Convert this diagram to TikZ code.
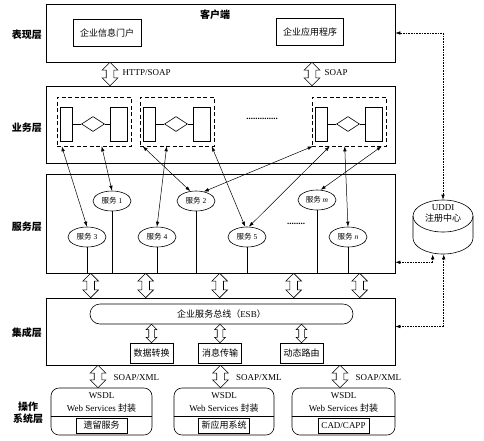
\documentclass[tikz,border=0pt]{standalone}
\usepackage{fontspec}
\setmainfont{Liberation Serif}
\newfontfamily\cjk{Noto Sans CJK SC}
\usepackage{tikz}
\usetikzlibrary{shapes.geometric, shapes.arrows, arrows.meta, calc}

\tikzset{
  layer/.style={draw, minimum width=349pt, inner sep=0pt},
  box/.style={draw, inner sep=2pt, minimum height=18pt, fill=white},
  grp/.style={draw, dash pattern=on 4pt off 2.5pt, minimum width=74pt, minimum height=49pt, inner sep=0pt},
  part/.style={draw, minimum height=34pt, inner sep=0pt},
  srv/.style={ellipse, draw, minimum width=38pt, minimum height=20pt, inner sep=0pt, fill=white, font=\fontsize{7.5}{8}\selectfont},
  fatarr/.style={double arrow, draw, rotate=90, inner sep=3.5pt, double arrow head extend=4pt, fill=white},
  fatsm/.style={inner sep=2.5pt, double arrow head extend=2.5pt},
  link/.style={<->, line width=0.5pt},
  reg/.style={<->, densely dotted, line width=0.6pt},
  lname/.style={font=\cjk\bfseries, align=center},
  >={Latex[length=5pt,width=3.5pt]}
}

% hollow double arrow between two points
\newcommand{\fatlink}[3][]{%
  \path let \p1=(#2), \p2=(#3) in
    node[fatarr, minimum height={veclen(\x2-\x1,\y2-\y1)}, #1] at ($(\p1)!0.5!(\p2)$) {};}

\begin{document}
\begin{tikzpicture}[x=1pt, y=-1pt, font=\fontsize{9}{11}\selectfont, line width=0.6pt]
  \useasboundingbox (0,0) rectangle (484,440);

  % layers
  \node[layer, minimum height=58pt] (client) at (220.5,33) {};
  \node[layer, minimum height=77pt] (biz) at (220.5,124.5) {};
  \node[layer, minimum height=99pt] (serv) at (220.5,223.5) {};
  \node[layer, minimum height=67pt] (integ) at (220.5,331.5) {};

  \node[lname] (l1) at (27,35) {表现层};
  \node[lname] (l2) at (27,128) {业务层};
  \node[lname] (l3) at (27,227) {服务层};
  \node[lname] (l4) at (27,333) {集成层};
  \node[lname] (l5) at (28,413) {操作\\系统层};

  % client
  \node[lname] (ctitle) at (215,15) {客户端};
  \node[box, minimum width=68pt, minimum height=27pt] (portal) at (107,33) {\cjk 企业信息门户};
  \node[box, minimum width=67pt, minimum height=27pt] (app) at (310,32) {\cjk 企业应用程序};
  \fatlink{[xshift=3pt]client.south -| portal}{[xshift=3pt]biz.north -| portal}
  \fatlink{[xshift=2pt]client.south -| app}{[xshift=2pt]biz.north -| app}
  \node[anchor=west] (lhttp) at (119,73) {HTTP/SOAP};
  \node[anchor=west] (lsoap) at (321,73) {SOAP};

  % business processes
  \foreach \i/\x in {1/57, 2/140, 3/312} {
    \node[grp] (g\i) at (\x+37,121.5) {};
    \node[part, minimum width=12pt] (pa\i) at (\x+9,124) {};
    \node[diamond, draw, minimum width=23pt, minimum height=15pt, inner sep=0pt] (d\i) at (\x+36,124) {};
    \node[part, minimum width=17pt] (pb\i) at (\x+62,124) {};
    \draw (pa\i) -- (d\i) -- (pb\i);
  }
  \node (bdots) at (262,119) {\textbf{..............}};

  % services
  \foreach \k/\x/\y/\t in {1/112/201/1, 2/196/201/2, m/317/200/\textit{m}, 3/87/237/3, 4/157/237/4, 5/247/237/5, n/348/237/\textit{n}} {
    \node[srv] (s\k) at (\x,\y) {{\cjk 服务} \t};
    \draw (s\k.south) -- (s\k.south |- serv.south);
  }
  \node (sdots) at (296,224) {\textbf{........}};

  \foreach \g/\dx/\s in {1/5/s3.north, 1/45/s1.north, 2/3/s2.120, 2/27/s4.north, 2/72/s5.100,
                         3/1/s2.50, 3/18/s5.80, 3/33/sn.north, 3/70/sm.70}
    \draw[link] ([xshift=\dx pt]g\g.south west) -- (\s);

  \foreach \dx in {45,100,174,248,314} {
    \fatlink{[xshift=\dx pt]serv.south west}{[xshift=\dx pt]integ.north west}
  }

  % integration
  \node[draw, rounded corners=10pt, minimum width=263pt, minimum height=20pt] (esb) at (221.5,314) {{\cjk 企业服务总线（}ESB{\cjk ）}};
  \foreach \k/\cx/\t in {1/151.5/数据转换, 2/220/消息传输, 3/301.5/动态路由} {
    \node[box, minimum width=43pt, minimum height=20pt] (f\k) at (\cx,353) {\cjk \t};
    \fatlink[fatsm]{esb.south -| f\k}{f\k.north}
  }

  % operating systems
  \foreach \k/\cx/\w/\t in {1/101.5/101/{\cjk 遗留服务}, 2/224/100/{\cjk 新应用系统}, 3/343.5/103/{CAD/CAPP}} {
    \node[draw, rounded corners=8pt, minimum width=\w pt, minimum height=47pt] (op\k) at (\cx,411.5) {};
    \node (w\k) at (\cx,396) {WSDL};
    \node (ws\k) at (\cx,408) {Web Services {\cjk 封装}};
    \draw ([yshift=-29pt]op\k.north west) -- ([yshift=-29pt]op\k.north east);
    \node[box, minimum width=51pt, minimum height=15pt] (in\k) at (\cx,425.5) {\t};
    \fatlink{[xshift=-3.5pt]integ.south -| op\k}{[xshift=-3.5pt]op\k.north}
    \node[anchor=west] (sx\k) at (\cx+8.5,378) {SOAP/XML};
  }

  % UDDI registry
  \node[minimum width=60pt, minimum height=54pt, inner sep=0pt] (uddi) at (443,227) {};
  \draw (443,216) ellipse [x radius=30, y radius=16];
  \draw (413,216) -- (413,238) arc[start angle=180, end angle=0, x radius=30, y radius=16] -- (473,216);
  \node[align=center] (utext) at (443,213) {UDDI\\{\cjk 注册中心}};
  \draw[reg] (uddi.north) |- (client.east);
  \draw[reg] ([xshift=20pt]uddi.south west) |- ([yshift=11pt]serv.south east);
  \draw[reg] ([xshift=31pt]uddi.south west) |- ([yshift=5pt]integ.east);
\end{tikzpicture}
\end{document}
